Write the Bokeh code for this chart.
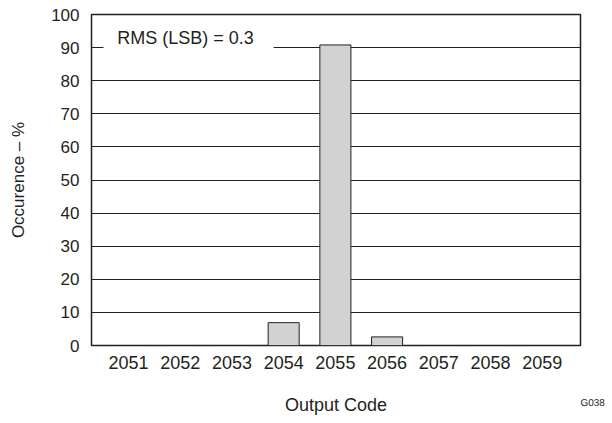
from bokeh.plotting import figure
from bokeh.models import FixedTicker, Range1d, Label, BoxAnnotation, LinearAxis
from bokeh.embed import file_html
from bokeh.resources import INLINE

codes = [2051, 2052, 2053, 2054, 2055, 2056, 2057, 2058, 2059]
occurrence = [0, 0, 0, 6.9, 90.8, 2.6, 0, 0, 0]
y_ticks = [0, 10, 20, 30, 40, 50, 60, 70, 80, 90, 100]
x_title = "Output Code"
y_title = "Occurence – %"
note = "RMS (LSB) = 0.3"
fig_id = "G038"

FONT = "Liberation Sans"
TXT = "#231f20"

p = figure(frame_width=489, frame_height=331, output_backend="svg", toolbar_location=None,
           x_range=Range1d(2051 - 0.716, 2059 + 0.74), y_range=Range1d(0, 100),
           min_border_left=91, min_border_right=30, min_border_top=14, min_border_bottom=70)
p.extra_x_ranges = {"corner": Range1d(0, 1)}

p.vbar(x=codes, top=occurrence, width=0.6, bottom=0,
       fill_color="#d2d2d4", line_color="#231f20", line_width=1)

p.xaxis.ticker = FixedTicker(ticks=codes)
p.yaxis.ticker = FixedTicker(ticks=y_ticks)
p.xgrid.visible = False
p.ygrid.grid_line_color = "#231f20"
p.ygrid.grid_line_width = 1

# second bottom axis: carries the figure id (as a tick label at the right end) and the axis title
ax2 = LinearAxis(x_range_name="corner", ticker=FixedTicker(ticks=[1]),
                 major_label_overrides={1: fig_id}, major_label_orientation=-0.001)
p.add_layout(ax2, "below")

for ax in (p.xaxis[0], p.yaxis[0], ax2):
    ax.axis_line_color = None
    ax.major_tick_line_color = None
    ax.minor_tick_line_color = None
    ax.major_tick_out = 0
    ax.major_tick_in = 0
    ax.minor_tick_out = 0
    ax.major_label_text_font = FONT
    ax.major_label_text_color = TXT
    ax.axis_label_text_font = FONT
    ax.axis_label_text_font_style = "normal"
    ax.axis_label_text_color = TXT

p.xaxis[0].major_label_text_font_size = "18px"
p.yaxis.major_label_text_font_size = "17px"
p.yaxis.axis_label_text_font_size = "17px"
ax2.major_label_text_font_size = "10px"
ax2.axis_label_text_font_size = "18px"

p.yaxis.axis_label = y_title
ax2.axis_label = x_title
p.xaxis[0].major_label_standoff = 10
p.yaxis.major_label_standoff = 12
p.yaxis.axis_label_standoff = 20
ax2.major_label_standoff = 31
ax2.axis_label_standoff = -22

p.outline_line_color = "#231f20"
p.outline_line_width = 1.5

box = BoxAnnotation(left=2050.516, right=2053.805, bottom=88, top=94,
                    fill_color="white", fill_alpha=1, line_alpha=0)
p.add_layout(box)
p.add_layout(Label(x=2050.78, y=92.9, text=note, text_font=FONT, text_font_size="18px",
                   text_color=TXT, text_baseline="middle", text_align="left"))

p.background_fill_color = "white"
p.border_fill_color = "white"

open("out.html", "w").write(file_html(p, INLINE))
